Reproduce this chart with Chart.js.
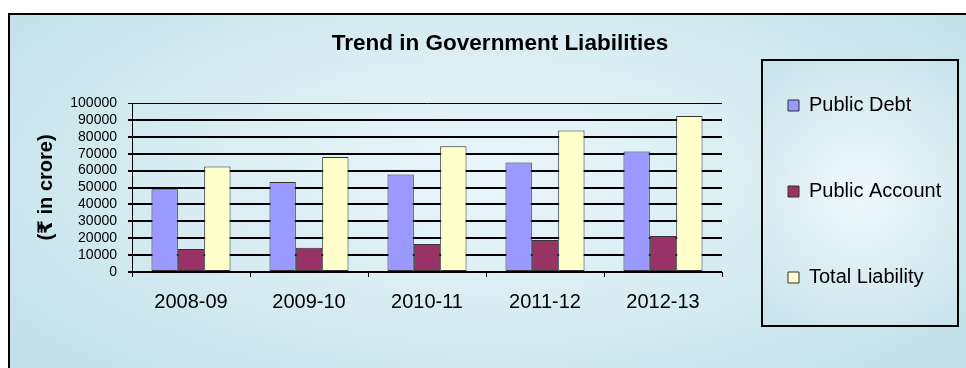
<!DOCTYPE html>
<html>
<head>
<meta charset="utf-8">
<script src="https://cdn.jsdelivr.net/npm/chart.js@4"></script>
<style>
    body {
        margin: 0;
        background: #ffffff;
        overflow: hidden;
        width: 966px;
        height: 368px;
    }

    #marco {
        position: absolute;
        left: 8px;
        top: 13px;
        width: 990px;
        height: 380px;
        border: 2px solid #000;
        background: radial-gradient(ellipse 60% 70% at 48% 42%, #eaf6fb 0%, #d6ecf2 55%, #c3e1e9 100%);
    }

    #caja {
        position: absolute;
        left: 0;
        top: 0;
        width: 980px;
        height: 353px;
    }
</style>
</head>
<body>
<div id="marco">
    <div id="caja">
        <canvas id="graficaPasivos"></canvas>
    </div>
</div>

<script>
const anios = ["2008-09", "2009-10", "2010-11", "2011-12", "2012-13"];

const deudaPublica = [49000, 53300, 57700, 64800, 71300];
const cuentaPublica = [13600, 14400, 16500, 18900, 21300];
const pasivoTotal = [62400, 68100, 74400, 83700, 92300];

const titulo = "Trend in Government Liabilities";
const tituloEjeY = "(\u20B9 in crore)";

const fuente = "'Liberation Sans', Arial, 'DejaVu Sans', sans-serif";

/* caja de la leyenda */
const cajaLeyenda = {
    id: "cajaLeyenda",

    beforeDraw(chart) {
        const lg = chart.legend;
        const ctx = chart.ctx;
        const x = lg.left + 40;
        const y = lg.top + 45;

        const grad = ctx.createRadialGradient(x + 98, y + 133, 5, x + 98, y + 133, 170);
        grad.addColorStop(0, "#eef8fc");
        grad.addColorStop(1, "#c6e2ea");

        ctx.save();
        ctx.fillStyle = grad;
        ctx.fillRect(x, y, 196, 266);
        ctx.restore();
    },

    afterDraw(chart) {
        const lg = chart.legend;
        const ctx = chart.ctx;

        ctx.save();
        ctx.strokeStyle = "#000";
        ctx.lineWidth = 2;
        ctx.strokeRect(lg.left + 40, lg.top + 45, 196, 266);
        ctx.restore();
    }
};

const ctx = document.getElementById("graficaPasivos").getContext("2d");

new Chart(ctx, {

    type: "bar",

    data: {
        labels: anios,
        datasets: [
            {
                label: "Public Debt",
                data: deudaPublica,
                backgroundColor: "#9999ff",
                borderColor: "#333333",
                borderWidth: 1,
                borderSkipped: false
            },
            {
                label: "Public Account",
                data: cuentaPublica,
                backgroundColor: "#993366",
                borderColor: "#333333",
                borderWidth: 1,
                borderSkipped: false
            },
            {
                label: "Total Liability",
                data: pasivoTotal,
                backgroundColor: "#ffffcc",
                borderColor: "#333333",
                borderWidth: 1,
                borderSkipped: false
            }
        ]
    },

    options: {
        responsive: true,
        maintainAspectRatio: false,
        animation: false,

        layout: {
            padding: { left: 46, right: 46, top: 0, bottom: 0 }
        },

        datasets: {
            bar: {
                categoryPercentage: 0.67,
                barPercentage: 1.0
            }
        },

        plugins: {
            title: {
                display: true,
                text: titulo,
                color: "#000",
                font: { family: fuente, size: 22.5, weight: "bold" },
                padding: { top: 15, bottom: 46 }
            },

            legend: {
                position: "right",
                align: "center",
                labels: {
                    color: "#000",
                    font: { family: fuente, size: 20 },
                    boxWidth: 11,
                    boxHeight: 11,
                    padding: 66
                }
            },

            tooltip: { enabled: false }
        },

        scales: {
            x: {
                grid: {
                    display: true,
                    offset: true,
                    drawOnChartArea: false,
                    drawTicks: true,
                    tickLength: 5,
                    color: "#000"
                },
                border: { display: true, color: "#000", width: 1 },
                ticks: {
                    color: "#000",
                    font: { family: fuente, size: 20 },
                    padding: 13,
                    maxRotation: 0
                },
                afterFit(scale) {
                    scale.height = 96;
                }
            },

            y: {
                min: 0,
                max: 100000,
                ticks: {
                    stepSize: 10000,
                    autoSkip: false,
                    color: "#000",
                    font: { family: fuente, size: 14 },
                    padding: 11,
                    callback: (v) => String(v)
                },
                grid: {
                    color: "#000",
                    lineWidth: (c) => (c.tick && c.tick.value === 100000 ? 1 : 2),
                    tickLength: 4
                },
                border: { display: true, color: "#000", width: 1 },
                title: {
                    display: true,
                    text: tituloEjeY,
                    color: "#000",
                    font: { family: fuente, size: 20, weight: "bold" },
                    padding: { top: -22, bottom: 0 }
                },
                afterFit(scale) {
                    scale.width = 76;
                }
            }
        }
    },

    plugins: [cajaLeyenda]
});
</script>
</body>
</html>
